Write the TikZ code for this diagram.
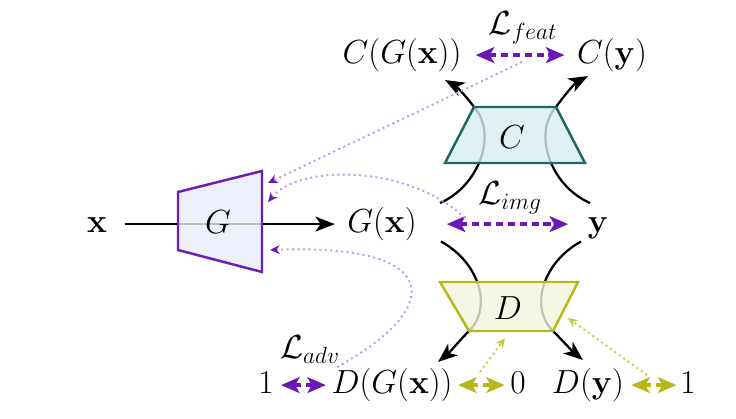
\RequirePackage{fix-cm}
\documentclass[tikz,border=0pt]{standalone}
\usepackage{amsmath, amssymb}
\usepackage{xcolor}
\usetikzlibrary{arrows.meta}

\definecolor{lossviolet}{RGB}{108,24,180}
\definecolor{lossdot}{RGB}{190,150,228}
\definecolor{genedge}{RGB}{108,30,180}
\definecolor{genfill}{RGB}{232,236,250}
\definecolor{critedge}{RGB}{28,104,98}
\definecolor{critfill}{RGB}{216,238,240}
\definecolor{discedge}{RGB}{182,184,24}
\definecolor{discfill}{RGB}{243,245,222}
\definecolor{discdot}{RGB}{200,200,70}

\begin{document}
\begin{tikzpicture}[
    font=\fontsize{19}{23}\selectfont,
    >={Stealth[length=11pt,width=8.5pt,inset=3pt]},
    lbl/.style={anchor=base, text height=14pt, text depth=5pt, inner sep=2pt},
    flow/.style={->, line width=1.3pt, line join=round},
    lossarrow/.style={{Stealth[length=10.5pt,width=9pt,inset=2.5pt]}-{Stealth[length=10.5pt,width=9pt,inset=2.5pt]},
      dash pattern=on 4pt off 2.8pt, line width=1.9pt},
    backprop/.style={dotted, line width=1.1pt,
      -{Stealth[length=5.5pt,width=5pt,color=#1]}},
    netbox/.style={line width=1.4pt, fill opacity=0.8, line join=miter}
  ]
    \useasboundingbox (0,0) rectangle (14.72,8.36);

    % inputs and outputs
    \node [lbl] (x) at (1.94,3.72) {$\mathbf{x}$};
    \node [lbl] (Gx) at (7.64,3.72) {$G(\mathbf{x})$};
    \node [lbl] (y) at (11.96,3.72) {$\mathbf{y}$};
    \node [lbl] (CGx) at (8.04,7.1) {$C(G(\mathbf{x}))$};
    \node [lbl] (Cy) at (12.24,7.1) {$C(\mathbf{y})$};
    \node [lbl] (one1) at (5.32,0.5) {$1$};
    \node [lbl] (DGx) at (7.84,0.5) {$D(G(\mathbf{x}))$};
    \node [lbl] (zero) at (10.36,0.5) {$0$};
    \node [lbl] (Dy) at (11.76,0.5) {$D(\mathbf{y})$};
    \node [lbl] (one2) at (13.76,0.5) {$1$};

    % ends of the curved paths
    \coordinate (cl) at (8.8,4.3);
    \coordinate (cr) at (11.8,4.3);
    \coordinate (dl) at (8.82,3.53);
    \coordinate (dr) at (11.62,3.53);
    \coordinate (tipCl) at (8.9,6.76);
    \coordinate (tipCr) at (11.76,6.84);
    \coordinate (tipDl) at (8.76,1.12);
    \coordinate (tipDr) at (11.66,1.16);

    \draw [flow, shorten <=8pt, shorten >=5pt] (x) -- (Gx);
    \draw [flow] (cl) .. controls (9.6,4.65) and (9.95,5.7) .. (9.48,6.22)
      .. controls (9.3,6.47) and (9.1,6.65) .. (tipCl);
    \draw [flow] (cr) .. controls (11.0,4.65) and (10.65,5.7) .. (11.12,6.22)
      .. controls (11.3,6.47) and (11.5,6.7) .. (tipCr);
    \draw [flow] (dl) .. controls (9.6,3.1) and (9.85,2.2) .. (9.38,1.74)
      .. controls (9.2,1.56) and (9.0,1.32) .. (tipDl);
    \draw [flow] (dr) .. controls (10.84,3.1) and (10.59,2.2) .. (11.06,1.74)
      .. controls (11.24,1.56) and (11.44,1.34) .. (tipDr);

    % networks
    \draw [netbox, draw=genedge, fill=genfill] (3.56,4.52) -- (5.24,4.94) -- (5.24,2.92) -- (3.56,3.36) -- cycle;
    \draw [netbox, draw=critedge, fill=critfill] (9.48,6.22) -- (11.12,6.22) -- (11.7,5.1) -- (8.9,5.1) -- cycle;
    \draw [netbox, draw=discedge, fill=discfill] (8.8,2.72) -- (11.56,2.72) -- (11.06,1.74) -- (9.38,1.74) -- cycle;
    \node (G) at (4.36,3.92) {$G$};
    \node (C) at (10.24,5.62) {$C$};
    \node (D) at (10.16,2.2) {$D$};

    % losses
    \node (Lfeat) at (10.46,7.8) {$\mathcal{L}_{feat}$};
    \node (Limg) at (10.2,4.4) {$\mathcal{L}_{img}$};
    \node (Ladv) at (6.2,1.36) {$\mathcal{L}_{adv}$};
    \draw [lossarrow, lossviolet, shorten <=6pt, shorten >=5pt] (CGx) -- (Cy);
    \draw [lossarrow, lossviolet, shorten <=15pt, shorten >=9pt] (Gx) -- (y);
    \draw [lossarrow, lossviolet, shorten <=2pt, shorten >=1pt] (one1) -- (DGx);
    \draw [lossarrow, discedge, shorten <=1pt, shorten >=1pt] (DGx) -- (zero);
    \draw [lossarrow, discedge, shorten <=2pt, shorten >=0pt] (Dy) -- (one2);

    % gradients
    \coordinate (gin1) at (5.36,4.7);
    \coordinate (gin2) at (5.36,4.32);
    \coordinate (gin3) at (5.4,3.36);
    \coordinate (din1) at (10.1,1.6);
    \coordinate (din2) at (11.36,2.0);
    \draw [backprop=lossviolet, lossdot] (10.44,7.12) -- (gin1);
    \draw [backprop=lossviolet, lossdot] (9.3,4.0) .. controls (8.2,5.05) and (6.0,5.1) .. (gin2);
    \draw [backprop=lossviolet, lossdot] (6.74,1.02) .. controls (8.9,2.2) and (8.9,3.5) .. (gin3);
    \draw [backprop=discdot, discdot] (9.6,0.92) -- (din1);
    \draw [backprop=discdot, discdot] (12.94,0.86) -- (din2);
\end{tikzpicture}
\end{document}
